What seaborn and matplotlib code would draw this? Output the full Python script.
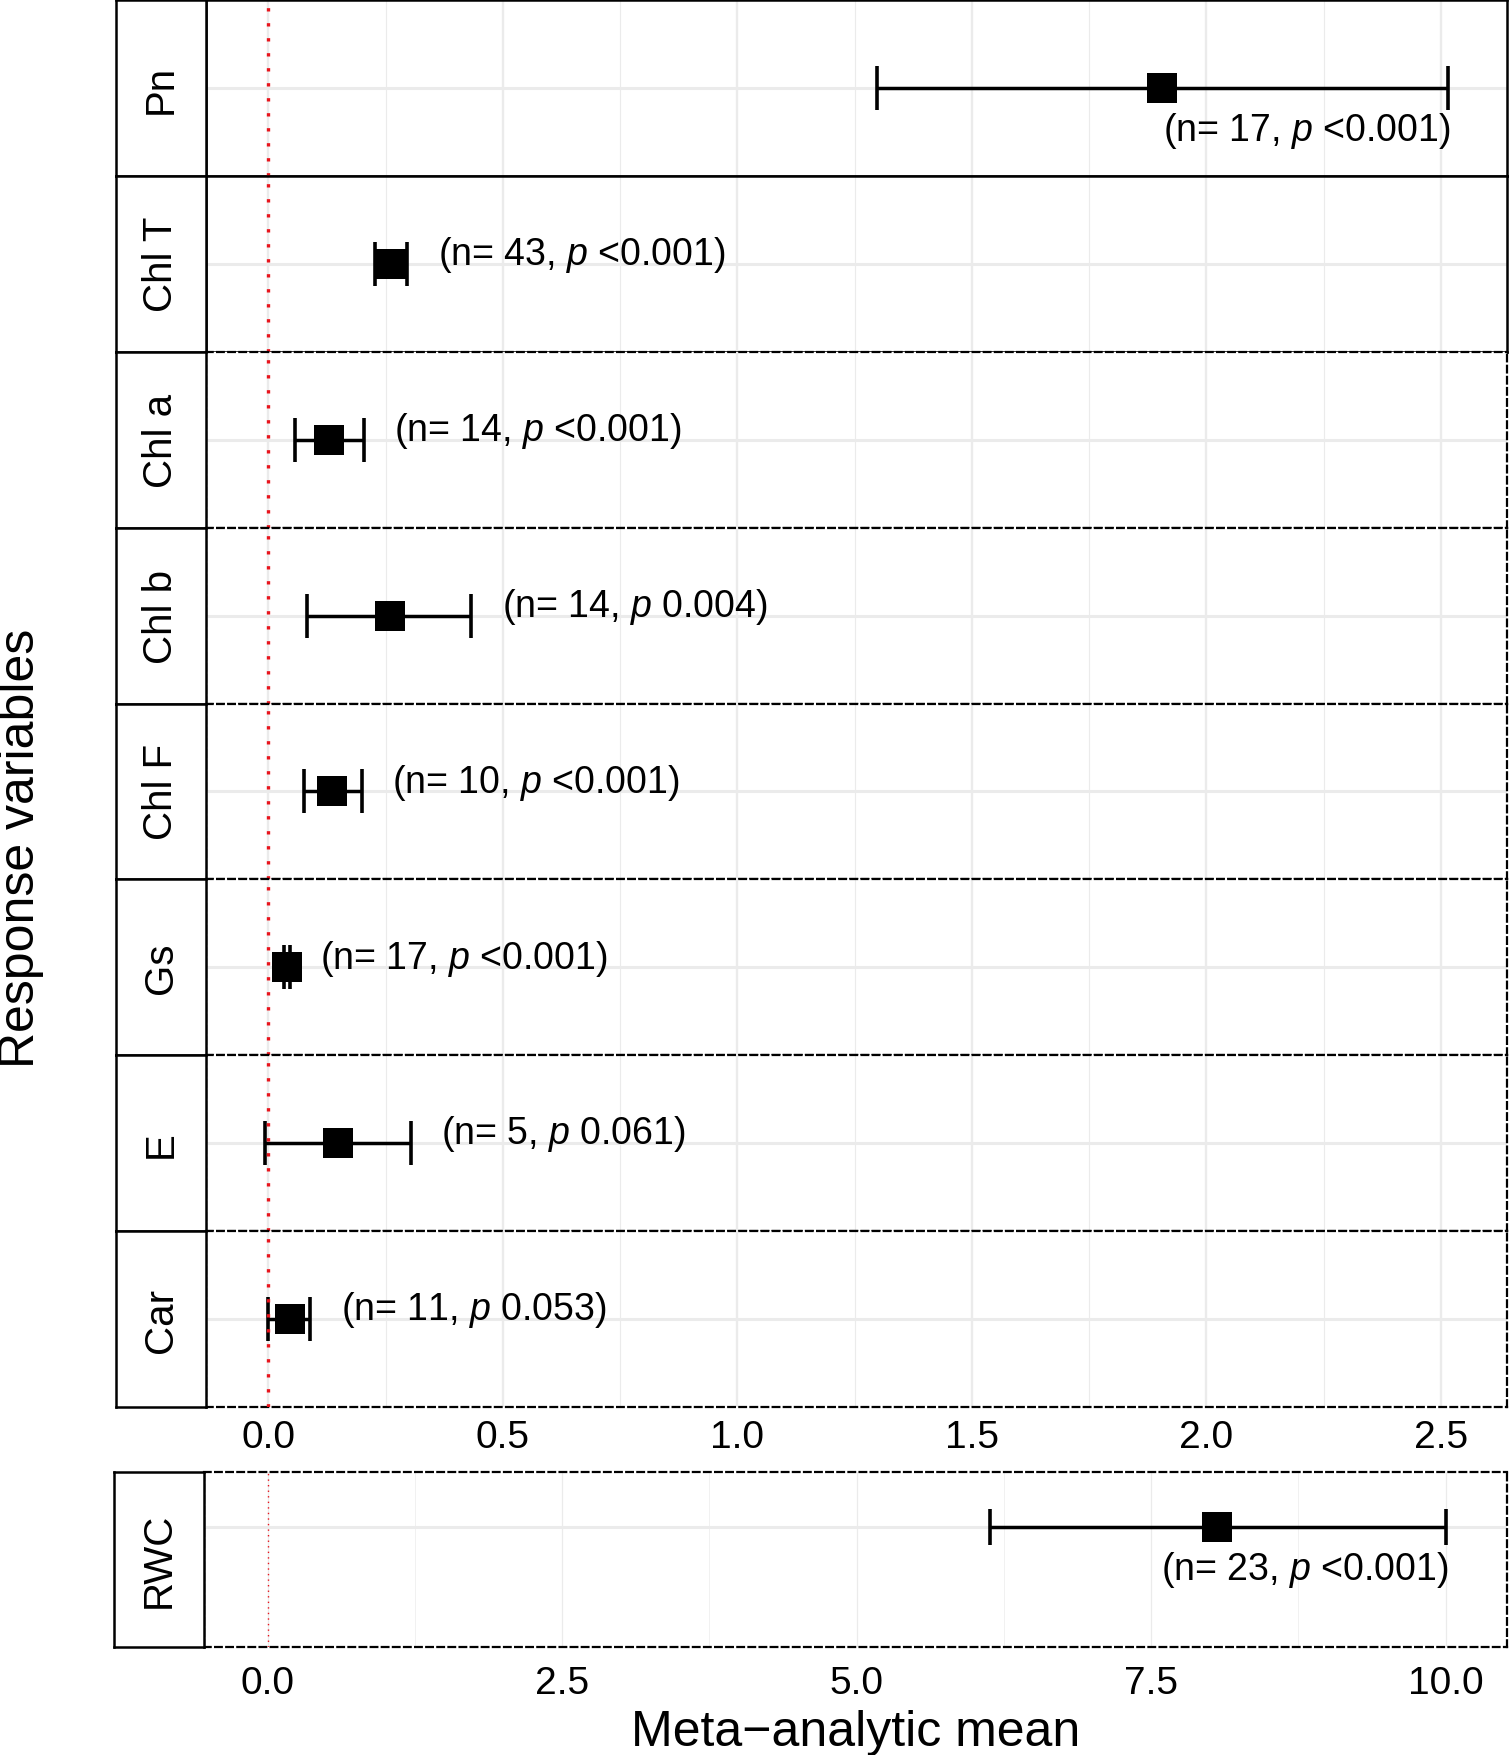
import matplotlib
matplotlib.use("Agg")
import matplotlib.pyplot as plt
import seaborn as sns
import numpy as np
import pandas as pd

"""
values read off the figure
"""
variables = ["Pn", "Chl T", "Chl a", "Chl b", "Chl F", "Gs", "E", "Car"]
means = [1.906, 0.262, 0.129, 0.259, 0.136, 0.040, 0.148, 0.045]
lower = [1.297, 0.228, 0.057, 0.083, 0.076, 0.033, -0.007, 0.000]
upper = [2.515, 0.296, 0.203, 0.432, 0.199, 0.045, 0.303, 0.089]
n_obs = [17, 43, 14, 14, 10, 17, 5, 11]
p_txt = ["<0.001", "<0.001", "<0.001", "0.004", "<0.001", "<0.001", "0.061", "0.053"]

rwc_var = ["RWC"]
rwc_mean = [8.06]
rwc_lower = [6.13]
rwc_upper = [10.0]
rwc_n = [23]
rwc_p = ["<0.001"]

top_ticks = [0.0, 0.5, 1.0, 1.5, 2.0, 2.5]
bottom_ticks = [0.0, 2.5, 5.0, 7.5, 10.0]

top = pd.DataFrame({"var": variables, "mean": means, "lower": lower,
                    "upper": upper, "n": n_obs, "p": p_txt})
bottom = pd.DataFrame({"var": rwc_var, "mean": rwc_mean, "lower": rwc_lower,
                       "upper": rwc_upper, "n": rwc_n, "p": rwc_p})

sns.set_theme(style="whitegrid")
plt.rcParams['font.family'] = ['Liberation Sans', 'DejaVu Sans']
plt.rcParams['mathtext.fontset'] = 'custom'
plt.rcParams['mathtext.rm'] = 'Liberation Sans'
plt.rcParams['mathtext.it'] = 'Liberation Sans:italic'

W, H = 1509, 1756
fig = plt.figure(figsize=(W / 100, H / 100), dpi=100)
fig.patch.set_facecolor('white')


def rect(x0, y0, x1, y1):
    return [x0 / W, 1 - y1 / H, (x1 - x0) / W, (y1 - y0) / H]


def strip(x0, y0, x1, y1, name):
    sax = fig.add_axes(rect(x0, y0, x1, y1))
    sax.set_xticks([])
    sax.set_yticks([])
    sax.grid(False)
    sax.set_facecolor('white')
    for sp in sax.spines.values():
        sp.set_visible(True)
        sp.set_color('black')
        sp.set_linewidth(1.8)
    sax.text(0.5, 0.5, name, rotation=90, ha='center', va='center',
             fontsize=29, color='black', transform=sax.transAxes)


def panel(ax, row, xlim, ylim, ticks, minor, border, vline, capsize, label_below):
    ax.set_facecolor('white')
    ax.set_xlim(xlim)
    ax.set_ylim(ylim)
    ax.set_yticks([0])
    ax.set_yticklabels([])
    ax.set_xticks(ticks)
    ax.set_xticks(minor, minor=True)
    ax.grid(which='major', axis='x', color='#EBEBEB', lw=1.7)
    ax.grid(which='minor', axis='x', color='#EBEBEB', lw=0.8)
    ax.grid(which='major', axis='y', color='#EBEBEB', lw=2.2)
    ax.tick_params(which='both', length=0, labelsize=28, colors='black')
    ax.set_xlabel('')
    ax.set_ylabel('')

    ax.axvline(0, color='#E8141C', lw=vline[0], ls=(0, vline[1]), zorder=3)
    ax.errorbar(x=[row["mean"]], y=[0],
                xerr=[[row["mean"] - row["lower"]], [row["upper"] - row["mean"]]],
                fmt='none', ecolor='black', elinewidth=2.5, capsize=capsize,
                capthick=2.6, zorder=2)
    sns.scatterplot(x=[row["mean"]], y=[0], marker='s', s=437, color='black',
                    linewidth=0, ax=ax, zorder=4, legend=False)

    txt = "(n= %d, $\\mathit{p}$ %s)" % (row["n"], row["p"])
    if label_below:
        ax.annotate(txt, xy=(row["upper"], 0), xytext=(2, -30),
                    textcoords='offset points', ha='right', va='center',
                    fontsize=27, color='black')
    else:
        ax.annotate(txt, xy=(row["upper"], 0), xytext=(22, 7),
                    textcoords='offset points', ha='left', va='center',
                    fontsize=27, color='black')

    for name, sp in ax.spines.items():
        sp.set_visible(True)
        sp.set_color('black')
        if border == 'solid':
            sp.set_linewidth(1.8)
            sp.set_linestyle('-')
        else:
            sp.set_linewidth(1.6)
            sp.set_linestyle((0, (3, 2)))


# top block: one facet row per response variable
span = top["upper"].max() - top["lower"].min()
top_xlim = (top["lower"].min() - 0.05 * span, top["upper"].max() + 0.05 * span)
top_minor = np.arange(0.25, 2.75, 0.5)
row_h = 1407 / len(top)
for i, row in top.iterrows():
    y0 = 1 + i * row_h
    y1 = y0 + row_h
    ax = fig.add_axes(rect(206, y0, 1507, y1))
    panel(ax, row, top_xlim, (-1, 1), top_ticks, top_minor,
          'solid' if i < 2 else 'dashed', (2.4, (1, 3.5)), 15.5,
          label_below=(i == 0))
    if i == len(top) - 1:
        ax.set_xticklabels(["%.1f" % t for t in top_ticks])
        ax.tick_params(axis='x', pad=9)
    else:
        ax.set_xticklabels([])
    strip(116, y0, 206, y1, row["var"])

# bottom block: RWC on its own scale, row sits in the upper third
bax = fig.add_axes(rect(204, 1473, 1507, 1648))
bottom_minor = np.arange(1.25, 11.0, 2.5)
panel(bax, bottom.iloc[0], (-0.54, 10.52), (-1.37, 0.63), bottom_ticks,
      bottom_minor, 'dashed', (1.0, (1, 3)), 13.3, label_below=True)
bax.grid(which='major', axis='x', color='#EBEBEB', lw=0.9)
bax.grid(which='minor', axis='x', color='#EBEBEB', lw=0.5)
bax.set_xticklabels(["%.1f" % t for t in bottom_ticks])
bax.tick_params(axis='x', pad=13)
strip(114, 1473, 204, 1648, bottom["var"].iloc[0])

fig.text(21 / W, 1 - 848 / H, "Response variables", rotation=90,
         ha='center', va='center', fontsize=36, color='black')
fig.text(856 / W, 1 - 1733 / H, "Meta\u2212analytic mean",
         ha='center', va='center', fontsize=36, color='black')

fig.savefig("out.png", dpi=100, facecolor='white')
